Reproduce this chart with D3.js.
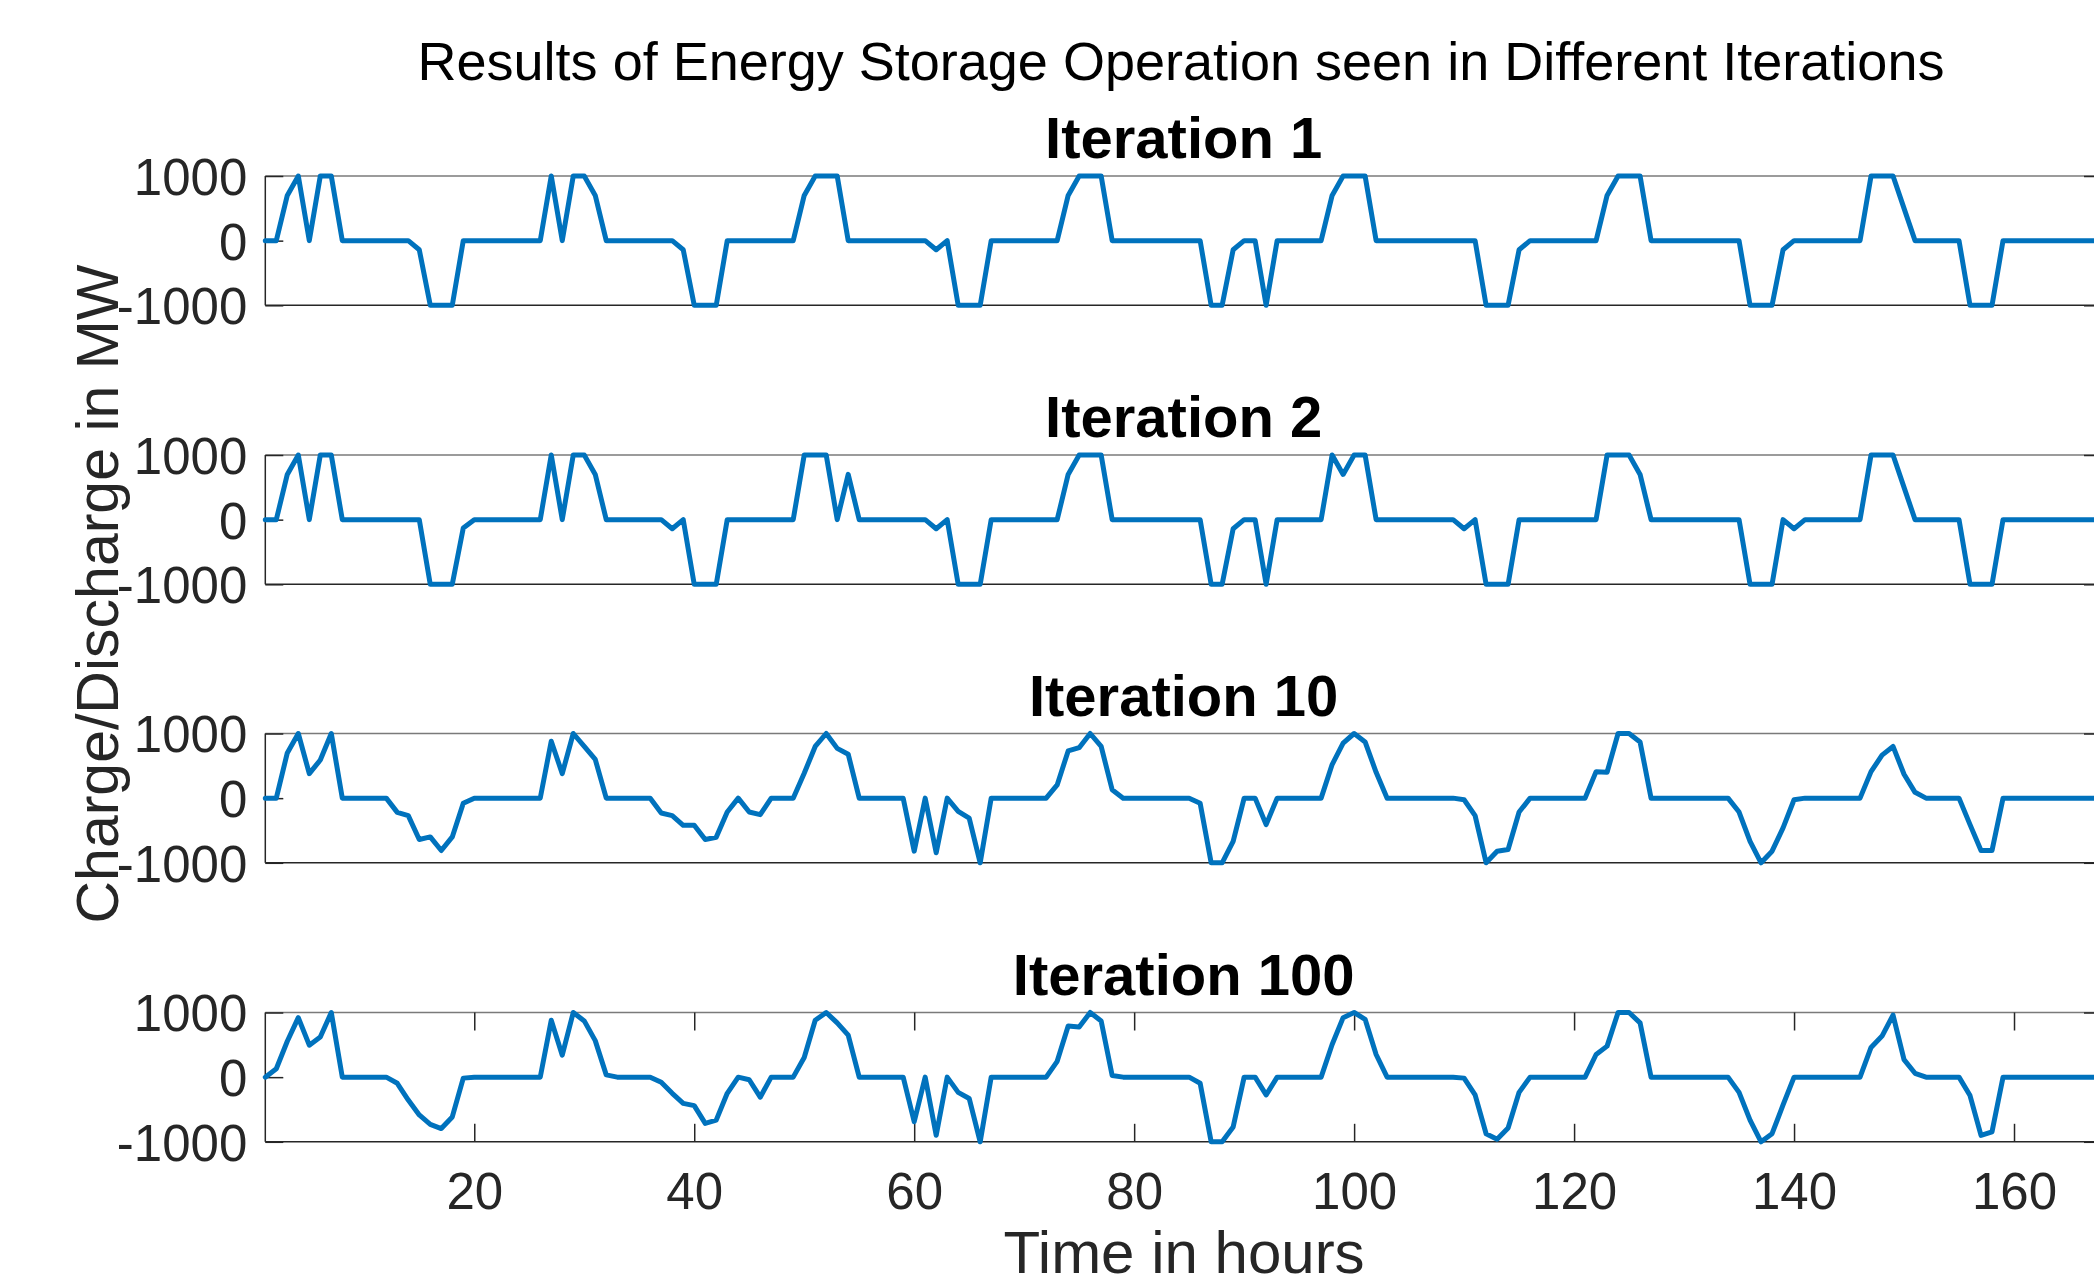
<!DOCTYPE html>
<html><head><meta charset="utf-8">
<script src="https://cdn.jsdelivr.net/npm/d3@7"></script>
<style>html,body{margin:0;padding:0;background:#fff;overflow:hidden}</style>
</head><body><svg id="c"></svg>
<script>
const hours = d3.range(1, 169);
const iter1 = [
 0,0,700,1000,0,1000,1000,0,0,0,0,0,0,0,-140,-1000,-1000,-1000,0,0,0,0,0,0,
 0,0,1000,0,1000,1000,700,0,0,0,0,0,0,0,-140,-1000,-1000,-1000,0,0,0,0,0,0,
 0,700,1000,1000,1000,0,0,0,0,0,0,0,0,-140,0,-1000,-1000,-1000,0,0,0,0,0,0,
 0,700,1000,1000,1000,0,0,0,0,0,0,0,0,0,-1000,-1000,-140,0,0,-1000,0,0,0,0,
 0,700,1000,1000,1000,0,0,0,0,0,0,0,0,0,0,-1000,-1000,-1000,-140,0,0,0,0,0,
 0,0,700,1000,1000,1000,0,0,0,0,0,0,0,0,0,-1000,-1000,-1000,-140,0,0,0,0,0,
 0,0,1000,1000,1000,500,0,0,0,0,0,-1000,-1000,-1000,0,0,0,0,0,0,0,0,0,0
];
const iter2 = [
 0,0,700,1000,0,1000,1000,0,0,0,0,0,0,0,0,-1000,-1000,-1000,-130,0,0,0,0,0,
 0,0,1000,0,1000,1000,700,0,0,0,0,0,0,-140,0,-1000,-1000,-1000,0,0,0,0,0,0,
 0,1000,1000,1000,0,700,0,0,0,0,0,0,0,-140,0,-1000,-1000,-1000,0,0,0,0,0,0,
 0,700,1000,1000,1000,0,0,0,0,0,0,0,0,0,-1000,-1000,-140,0,0,-1000,0,0,0,0,
 0,1000,700,1000,1000,0,0,0,0,0,0,0,0,-140,0,-1000,-1000,-1000,0,0,0,0,0,0,
 0,0,1000,1000,1000,700,0,0,0,0,0,0,0,0,0,-1000,-1000,-1000,0,-140,0,0,0,0,
 0,0,1000,1000,1000,500,0,0,0,0,0,-1000,-1000,-1000,0,0,0,0,0,0,0,0,0,0
];
const iter10 = [
 0,0,700,1000,380,590,1000,0,0,0,0,0,-220,-270,-640,-600,-810,-600,-80,0,0,0,0,0,
 0,0,880,380,1000,800,600,0,0,0,0,0,-230,-270,-420,-420,-640,-605,-215,0,-215,-255,0,0,
 0,385,800,1000,770,680,0,0,0,0,0,-820,0,-845,0,-205,-310,-1000,0,0,0,0,0,0,
 205,730,780,1000,800,130,0,0,0,0,0,0,0,-80,-1000,-1000,-670,0,0,-410,0,0,0,0,
 0,520,850,1000,870,400,0,0,0,0,0,0,0,-25,-270,-1000,-820,-795,-215,0,0,0,0,0,
 0,410,400,1000,1000,870,0,0,0,0,0,0,0,0,-215,-670,-1000,-820,-460,-25,0,0,0,0,
 0,0,410,665,800,370,90,0,0,0,0,-410,-810,-810,0,0,0,0,0,0,0,0,0,0
];
const iter100 = [
 0,130,555,920,495,620,1000,0,0,0,0,0,-95,-355,-585,-730,-795,-615,-15,0,0,0,0,0,
 0,0,880,340,1000,870,565,35,0,0,0,0,-80,-250,-405,-440,-715,-665,-250,0,-40,-310,0,0,
 0,305,880,1000,840,650,0,0,0,0,0,-690,0,-900,0,-235,-330,-1000,0,0,0,0,0,0,
 245,790,775,1000,870,25,0,0,0,0,0,0,0,-95,-1000,-1000,-770,0,0,-275,0,0,0,0,
 0,505,920,1000,895,350,0,0,0,0,0,0,0,-15,-275,-875,-960,-785,-235,0,0,0,0,0,
 0,350,480,1000,1000,840,0,0,0,0,0,0,0,0,-235,-665,-1000,-875,-430,0,0,0,0,0,
 0,0,460,635,960,270,60,0,0,0,0,-285,-900,-845,0,0,0,0,0,0,0,0,0,0
];
const seriesList = [iter1, iter2, iter10, iter100];
const panelTitles = ["Iteration 1", "Iteration 2", "Iteration 10", "Iteration 100"];
const yTicks = [-1000, 0, 1000];
const xTicks = [20, 40, 60, 80, 100, 120, 140, 160];
const mainTitle = "Results of Energy Storage Operation seen in Different Iterations";
const xLabel = "Time in hours";
const yLabel = "Charge/Discharge in MW";

const W = 2094, H = 1287;
const FONT = "'Liberation Sans', Arial, Helvetica, sans-serif";
const left = 265.3, right = 2102;
const tops = [176, 455, 733.5, 1012.5];
const ph = 129.3;
const axisColor = "#262626";

const svg = d3.select("#c").attr("width", W).attr("height", H)
  .style("font-family", FONT).style("display", "block");
svg.append("rect").attr("width", W).attr("height", H).attr("fill", "#fff");

const x = d3.scaleLinear().domain([1, 168]).range([left, right]);

svg.append("text").attr("x", 1181).attr("y", 80).attr("text-anchor", "middle")
  .attr("font-size", 54).attr("fill", "#000").text(mainTitle);

seriesList.forEach((vals, k) => {
  const top = tops[k], bottom = top + ph;
  const y = d3.scaleLinear().domain([-1000, 1000]).range([bottom, top]);
  const g = svg.append("g");

  g.append("line").attr("x1", left).attr("x2", right).attr("y1", top).attr("y2", top)
    .attr("stroke", "#7a7a7a").attr("stroke-width", 1.5);
  g.append("line").attr("x1", left).attr("x2", right).attr("y1", bottom).attr("y2", bottom)
    .attr("stroke", axisColor).attr("stroke-width", 1.5);
  g.append("line").attr("x1", left).attr("x2", left).attr("y1", top).attr("y2", bottom)
    .attr("stroke", axisColor).attr("stroke-width", 1.5);
  g.append("line").attr("x1", right).attr("x2", right).attr("y1", top).attr("y2", bottom)
    .attr("stroke", axisColor).attr("stroke-width", 1.5);

  const ya = g.append("g").attr("transform", `translate(${left},0)`)
    .call(d3.axisLeft(y).tickValues(yTicks).tickSize(-18).tickSizeOuter(0).tickPadding(18).tickFormat(d => String(d)));
  ya.select(".domain").remove();
  ya.selectAll(".tick line").attr("stroke", axisColor).attr("stroke-width", 1.5);
  ya.selectAll(".tick text").attr("font-size", 51).attr("fill", axisColor).attr("font-family", FONT).attr("dy", "0.36em");

  const yr = g.append("g").attr("transform", `translate(${right},0)`)
    .call(d3.axisRight(y).tickValues(yTicks).tickSize(-18).tickSizeOuter(0).tickFormat(""));
  yr.select(".domain").remove();
  yr.selectAll(".tick line").attr("stroke", axisColor).attr("stroke-width", 1.5);

  if (k === 3) {
    const xa = g.append("g").attr("transform", `translate(0,${bottom})`)
      .call(d3.axisBottom(x).tickValues(xTicks).tickSize(-18).tickSizeOuter(0).tickPadding(31));
    xa.select(".domain").remove();
    xa.selectAll(".tick line").attr("stroke", axisColor).attr("stroke-width", 1.5);
    xa.selectAll(".tick text").attr("font-size", 51).attr("fill", axisColor).attr("font-family", FONT);
    const xt = g.append("g").attr("transform", `translate(0,${top})`)
      .call(d3.axisTop(x).tickValues(xTicks).tickSize(-18).tickSizeOuter(0).tickFormat(""));
    xt.select(".domain").remove();
    xt.selectAll(".tick line").attr("stroke", axisColor).attr("stroke-width", 1.5);
  }

  g.append("text").attr("x", (left + right) / 2).attr("y", top - 18).attr("text-anchor", "middle")
    .attr("font-size", 58).attr("font-weight", "bold").attr("fill", "#000").text(panelTitles[k]);

  const line = d3.line().x((d, i) => x(hours[i])).y(d => y(d));
  g.append("path").datum(vals).attr("d", line).attr("fill", "none")
    .attr("stroke", "#0072BD").attr("stroke-width", 5)
    .attr("stroke-linejoin", "round").attr("stroke-linecap", "round");
});

svg.append("text").attr("x", 1184).attr("y", 1273).attr("text-anchor", "middle")
  .attr("font-size", 60).attr("fill", axisColor).text(xLabel);

svg.append("text").attr("transform", "translate(118,594) rotate(-90)").attr("text-anchor", "middle")
  .attr("font-size", 59).attr("fill", axisColor).text(yLabel);
</script>
</body></html>
